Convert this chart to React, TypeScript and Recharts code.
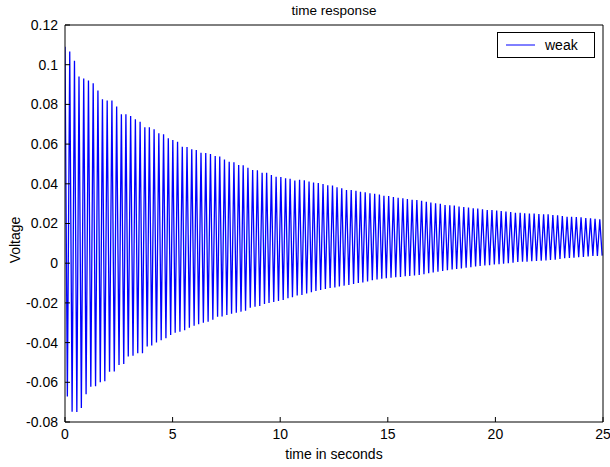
import React from 'react';
import { LineChart, Line, XAxis, YAxis, Legend } from 'recharts';

// upper turning points of the oscillation (time in s, voltage)
const peakTimes = [
  0, 0.22, 0.44, 0.65, 0.87, 1.09, 1.31, 1.53, 1.74, 1.96,
  2.18, 2.4, 2.62, 2.83, 3.05, 3.27, 3.49, 3.71, 3.92, 4.14,
  4.36, 4.58, 4.8, 5.01, 5.23, 5.45, 5.67, 5.89, 6.1, 6.32,
  6.54, 6.76, 6.98, 7.19, 7.41, 7.63, 7.85, 8.07, 8.28, 8.5,
  8.72, 8.94, 9.16, 9.37, 9.59, 9.81, 10.03, 10.25, 10.46, 10.68,
  10.9, 11.12, 11.34, 11.55, 11.77, 11.99, 12.21, 12.43, 12.64, 12.86,
  13.08, 13.3, 13.52, 13.73, 13.95, 14.17, 14.39, 14.61, 14.82, 15.04,
  15.26, 15.48, 15.7, 15.91, 16.13, 16.35, 16.57, 16.79, 17.0, 17.22,
  17.44, 17.66, 17.88, 18.09, 18.31, 18.53, 18.75, 18.97, 19.18, 19.4,
  19.62, 19.84, 20.06, 20.27, 20.49, 20.71, 20.93, 21.15, 21.36, 21.58,
  21.8, 22.02, 22.24, 22.45, 22.67, 22.89, 23.11, 23.33, 23.54, 23.76,
  23.98, 24.2, 24.42, 24.63, 24.85,
];
const peakValues = [
  0.109, 0.1066, 0.102, 0.094, 0.093, 0.092, 0.0906, 0.087, 0.0826, 0.082,
  0.082, 0.079, 0.075, 0.075, 0.0742, 0.0725, 0.0713, 0.0685, 0.0685, 0.0675,
  0.0654, 0.065, 0.0629, 0.062, 0.0612, 0.0587, 0.0585, 0.0574, 0.057, 0.0557,
  0.0555, 0.055, 0.054, 0.0538, 0.0523, 0.0511, 0.0508, 0.0495, 0.0493, 0.0481,
  0.047, 0.0468, 0.0456, 0.0455, 0.0444, 0.0436, 0.0434, 0.0428, 0.0426, 0.0416,
  0.042, 0.0418, 0.0411, 0.0406, 0.0404, 0.0399, 0.0392, 0.0391, 0.0382, 0.0378,
  0.0369, 0.0369, 0.0365, 0.036, 0.0357, 0.0352, 0.035, 0.0346, 0.034, 0.0338,
  0.0334, 0.033, 0.0327, 0.0323, 0.032, 0.0318, 0.0315, 0.031, 0.0306, 0.0302,
  0.03, 0.0293, 0.0292, 0.029, 0.0285, 0.0283, 0.028, 0.0277, 0.0275, 0.0272,
  0.0268, 0.0268, 0.0265, 0.0263, 0.026, 0.0258, 0.0254, 0.0254, 0.0252, 0.025,
  0.025, 0.0248, 0.0246, 0.0246, 0.0243, 0.0241, 0.0238, 0.0234, 0.0234, 0.0232,
  0.0231, 0.0228, 0.0226, 0.0224, 0.0221,
];

// lower turning points
const troughTimes = [
  0.11, 0.33, 0.55, 0.76, 0.98, 1.2, 1.42, 1.64, 1.85, 2.07,
  2.29, 2.51, 2.73, 2.94, 3.16, 3.38, 3.6, 3.82, 4.03, 4.25,
  4.47, 4.69, 4.91, 5.12, 5.34, 5.56, 5.78, 6.0, 6.21, 6.43,
  6.65, 6.87, 7.09, 7.3, 7.52, 7.74, 7.96, 8.18, 8.39, 8.61,
  8.83, 9.05, 9.27, 9.48, 9.7, 9.92, 10.14, 10.36, 10.57, 10.79,
  11.01, 11.23, 11.45, 11.66, 11.88, 12.1, 12.32, 12.54, 12.75, 12.97,
  13.19, 13.41, 13.63, 13.84, 14.06, 14.28, 14.5, 14.72, 14.93, 15.15,
  15.37, 15.59, 15.81, 16.02, 16.24, 16.46, 16.68, 16.9, 17.11, 17.33,
  17.55, 17.77, 17.99, 18.2, 18.42, 18.64, 18.86, 19.08, 19.29, 19.51,
  19.73, 19.95, 20.17, 20.38, 20.6, 20.82, 21.04, 21.26, 21.47, 21.69,
  21.91, 22.13, 22.35, 22.56, 22.78, 23.0, 23.22, 23.44, 23.65, 23.87,
  24.09, 24.31, 24.53, 24.74, 24.96,
];
const troughValues = [
  -0.0672, -0.0748, -0.075, -0.073, -0.066, -0.0622, -0.062, -0.06, -0.0595, -0.0547,
  -0.0545, -0.0513, -0.0508, -0.047, -0.0466, -0.0454, -0.0454, -0.042, -0.0415, -0.04,
  -0.0388, -0.0378, -0.0362, -0.035, -0.0345, -0.0338, -0.0325, -0.0315, -0.0308, -0.03,
  -0.0295, -0.0285, -0.027, -0.0268, -0.0261, -0.0255, -0.025, -0.0244, -0.024, -0.0225,
  -0.0219, -0.0215, -0.0205, -0.02, -0.0196, -0.019, -0.0185, -0.0177, -0.0172, -0.0163,
  -0.016, -0.0152, -0.0146, -0.014, -0.0135, -0.013, -0.0125, -0.0122, -0.0117, -0.0113,
  -0.011, -0.0105, -0.01, -0.0097, -0.0092, -0.0086, -0.0082, -0.0078, -0.0076, -0.0073,
  -0.0071, -0.0069, -0.0066, -0.0064, -0.0062, -0.0059, -0.0055, -0.0051, -0.0047, -0.0043,
  -0.0039, -0.0035, -0.0031, -0.0029, -0.0026, -0.0023, -0.002, -0.0017, -0.0014, -0.0012,
  -0.001, -0.0007, -0.0005, -0.0003, 0, 0.0003, 0.0006, 0.0007, 0.0008, 0.001,
  0.0011, 0.0012, 0.0014, 0.0016, 0.0018, 0.0021, 0.0025, 0.0026, 0.0028, 0.003,
  0.0032, 0.0034, 0.0036, 0.0037, 0.0038,
];

const xTicks = [0, 5, 10, 15, 20, 25];
const yTicks = [-0.08, -0.06, -0.04, -0.02, 0, 0.02, 0.04, 0.06, 0.08, 0.1, 0.12];

const data = [
  ...peakTimes.map((t, i) => ({ t, v: peakValues[i] })),
  ...troughTimes.map((t, i) => ({ t, v: troughValues[i] })),
].sort((a, b) => a.t - b.t);

const font = '"Liberation Sans", Arial, Helvetica, sans-serif';
const tickStyle = { fontSize: 14, fill: '#000', fontFamily: font };
const fmtY = (v: number) => String(Number(v.toFixed(2)));

const LegendBox = () => (
  <div
    style={{
      boxSizing: 'border-box',
      width: 98,
      height: 26,
      border: '1px solid #000',
      background: '#fff',
      display: 'flex',
      alignItems: 'center',
      fontFamily: font,
      fontSize: 14,
      color: '#000',
    }}
  >
    <svg width={39} height={10} style={{ marginLeft: 8 }}>
      <line x1={0} y1={5} x2={29} y2={5} stroke="#0000ff" strokeWidth={1} />
    </svg>
    <span>weak</span>
  </div>
);

export default function App() {
  return (
    <div style={{ position: 'absolute', left: 0, top: 0, width: 610, height: 467, background: '#fff' }}>
      <LineChart
        width={610}
        height={467}
        data={data}
        margin={{ top: 24, right: 6, left: 0, bottom: 0 }}
      >
        <XAxis
          dataKey="t"
          type="number"
          domain={[0, 25]}
          ticks={xTicks}
          allowDataOverflow
          height={45}
          tickSize={-5}
          tickMargin={12}
          stroke="#000"
          tick={tickStyle}
        />
        <XAxis
          xAxisId="top"
          orientation="top"
          type="number"
          domain={[0, 25]}
          ticks={xTicks}
          allowDataOverflow
          height={1}
          tickSize={-5}
          tick={false}
          stroke="#000"
        />
        <YAxis
          type="number"
          domain={[-0.08, 0.12]}
          ticks={yTicks}
          allowDataOverflow
          width={65}
          tickSize={-5}
          tickMargin={12}
          tickFormatter={fmtY}
          stroke="#000"
          tick={tickStyle}
        />
        <YAxis
          yAxisId="right"
          orientation="right"
          type="number"
          domain={[-0.08, 0.12]}
          ticks={yTicks}
          allowDataOverflow
          width={1}
          tickSize={-5}
          tick={false}
          stroke="#000"
        />
        <Legend
          layout="vertical"
          align="center"
          verticalAlign="middle"
          wrapperStyle={{ left: 497, top: 32, width: 98, height: 26 }}
          content={() => <LegendBox />}
        />
        <Line
          dataKey="v"
          name="weak"
          type="linear"
          stroke="#0000ff"
          strokeWidth={1.3}
          dot={false}
          activeDot={false}
          isAnimationActive={false}
        />
      </LineChart>
      <div
        style={{
          position: 'absolute',
          left: 65,
          width: 538,
          top: 3,
          textAlign: 'center',
          fontFamily: font,
          fontSize: 13.5,
          lineHeight: '16px',
        }}
      >
        time response
      </div>
      <div
        style={{
          position: 'absolute',
          left: 65,
          width: 538,
          top: 446,
          textAlign: 'center',
          fontFamily: font,
          fontSize: 14,
          lineHeight: '16px',
        }}
      >
        time in seconds
      </div>
      <div
        style={{
          position: 'absolute',
          left: 15,
          top: 240,
          transform: 'translate(-50%, -50%) rotate(-90deg)',
          whiteSpace: 'nowrap',
          fontFamily: font,
          fontSize: 14,
          lineHeight: '16px',
        }}
      >
        Voltage
      </div>
    </div>
  );
}
